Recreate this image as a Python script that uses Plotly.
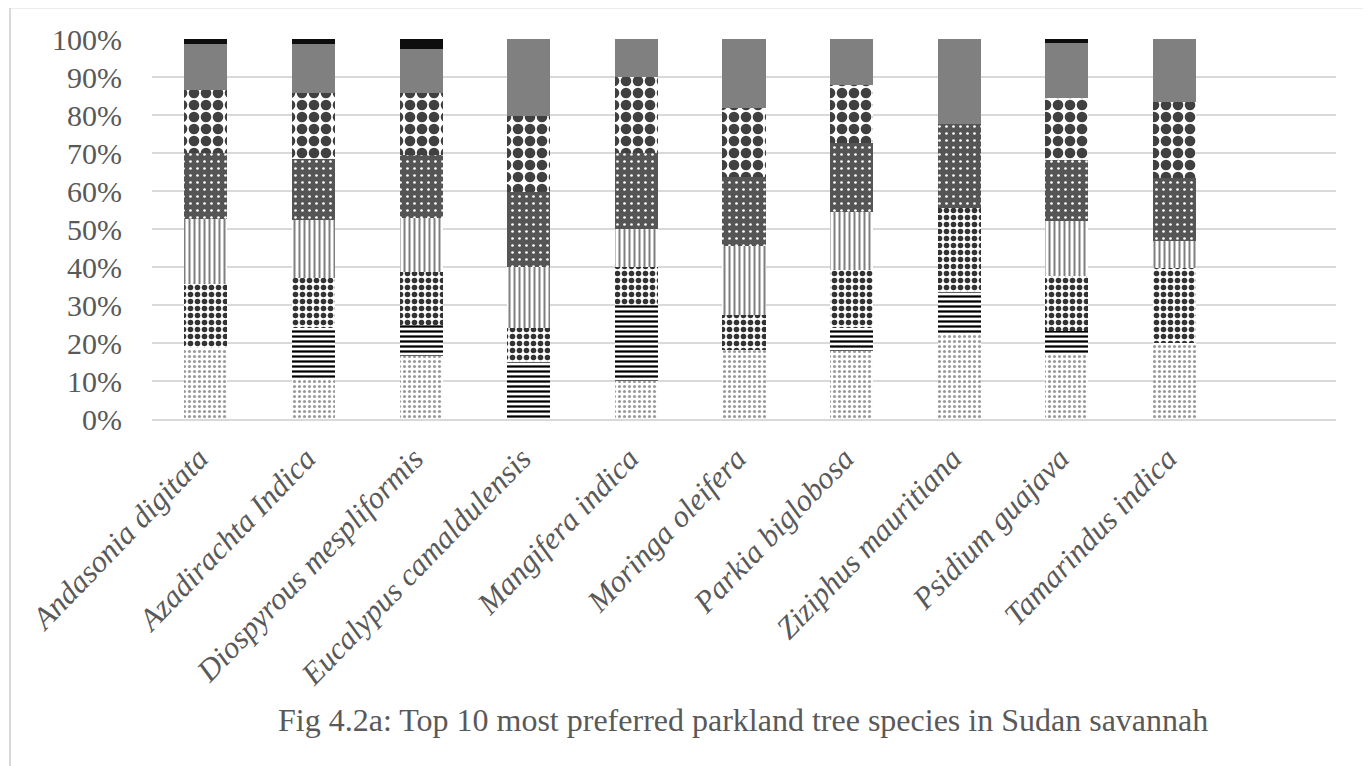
import plotly.graph_objects as go

categories = ["Andasonia digitata", "Azadirachta Indica", "Diospyrous mespliformis",
              "Eucalypus camaldulensis", "Mangifera indica", "Moringa oleifera",
              "Parkia biglobosa", "Ziziphus mauritiana", "Psidium guajava", "Tamarindus indica"]

# percentage shares per series (bottom to top)
s1 = [18.6, 10.3, 16.6, 0.0, 10.0, 18.2, 17.9, 22.2, 17.5, 19.9]
s2 = [0.0, 13.7, 8.1, 15.1, 20.0, 0.0, 6.1, 11.1, 5.7, 0.0]
s3 = [16.8, 13.0, 14.0, 8.8, 10.0, 9.1, 15.2, 22.2, 14.4, 19.9]
s4 = [17.3, 15.4, 14.2, 16.1, 10.0, 18.2, 15.4, 0.0, 14.4, 7.0]
s5 = [17.2, 16.0, 16.7, 19.7, 20.0, 18.2, 18.0, 22.2, 16.2, 16.7]
s6 = [16.7, 17.5, 16.3, 20.1, 20.0, 18.2, 15.2, 0.0, 16.4, 19.8]
s7 = [12.2, 12.9, 11.4, 20.2, 10.0, 18.1, 12.2, 22.3, 14.4, 16.7]
s8 = [1.2, 1.2, 2.7, 0.0, 0.0, 0.0, 0.0, 0.0, 1.0, 0.0]

series = [s1, s2, s3, s4, s5, s6, s7, s8]
patterns = [
    dict(shape=".", fgcolor="#9a9a9a", bgcolor="white", size=5, solidity=0.3),
    dict(shape="-", fgcolor="#000000", bgcolor="white", size=5, solidity=0.45),
    dict(shape=".", fgcolor="#333333", bgcolor="white", size=7, solidity=0.5),
    dict(shape="|", fgcolor="#7f7f7f", bgcolor="white", size=5, solidity=0.4),
    dict(shape=".", fgcolor="#ffffff", bgcolor="#555555", size=7, solidity=0.12),
    dict(shape=".", fgcolor="#404040", bgcolor="white", size=12, solidity=0.62),
    None,
    None,
]
solid = ["white", "white", "white", "white", "#555555", "white", "#808080", "#0d0d0d"]

x = list(range(len(categories)))
fig = go.Figure()
for i, vals in enumerate(series):
    marker = dict(color=solid[i], line=dict(width=0))
    if patterns[i] is not None:
        marker["pattern"] = dict(fillmode="replace", **patterns[i])
    fig.add_trace(go.Bar(x=x, y=vals, marker=marker, width=0.4, showlegend=False,
                         hoverinfo="skip"))

font_family = "Liberation Serif, Times New Roman, serif"
W, H = 1363, 758
L, T = 144, 30.5
PW, PH = 1184, 381
fig.update_layout(
    barmode="stack",
    width=W, height=H,
    margin=dict(l=L, r=W - L - PW, t=T, b=H - T - PH),
    paper_bgcolor="white", plot_bgcolor="white",
    font=dict(family=font_family, color="#595959"),
    xaxis=dict(
        range=[-0.5, 10.5],
        tickmode="array", tickvals=x,
        ticktext=["<i>" + c + "</i>" for c in categories],
        tickangle=-46, tickfont=dict(size=31, family=font_family, color="#595959"),
        showgrid=False, zeroline=False,
        showline=True, linecolor="#d9d9d9", linewidth=2, ticks="",
        ticklabelstandoff=7, ticklabelshift=-7,
    ),
    yaxis=dict(
        range=[0, 100], tickvals=list(range(0, 101, 10)),
        ticktext=[f"{v}%" for v in range(0, 101, 10)],
        tickfont=dict(size=30, family=font_family, color="#595959"),
        showgrid=True, gridcolor="#d9d9d9", gridwidth=2,
        zeroline=False, ticks="", ticklabelstandoff=29,
    ),
    annotations=[dict(
        text="Fig 4.2a: Top 10 most preferred parkland tree species in Sudan savannah",
        xref="paper", yref="paper", x=(743 - 152) / PW, y=(419.5 - 721) / PH,
        xanchor="center", yanchor="middle", showarrow=False,
        font=dict(size=32, family=font_family, color="#595959"),
    )],
    shapes=[dict(
        type="rect", xref="paper", yref="paper",
        x0=(10 - 152) / PW, x1=(1365 - 152) / PW,
        y0=(419.5 - 800) / PH, y1=(419.5 - 7) / PH,
        line=dict(color="#d9d9d9", width=2), fillcolor="rgba(0,0,0,0)", layer="below",
    )],
)

fig.write_html("out.html")
